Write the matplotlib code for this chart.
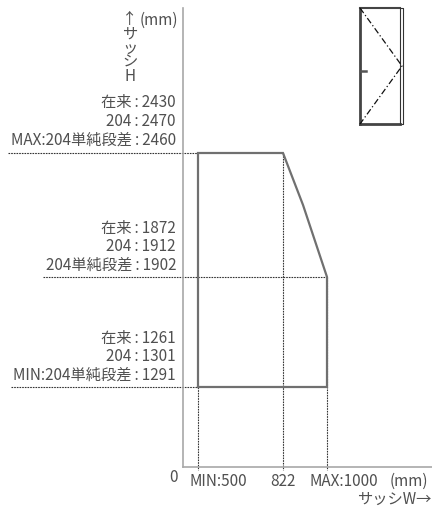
import matplotlib
matplotlib.use('Agg')
import matplotlib.pyplot as plt
import numpy as np
from matplotlib.transforms import Affine2D, blended_transform_factory

plt.rcParams['font.family'] = ['Noto Sans CJK JP', 'DejaVu Sans']

# sash size limits (mm), the drawing is not to scale
range_w = [500, 500, 822, 903, 1000, 1000, 500]
range_h = [1291, 2460, 2460, 2226, 1902, 1291, 1291]
xtick_vals = [500, 822, 1000]
xtick_labels = ['MIN:500', '822', 'MAX:1000']
h_levels = [2460, 1902, 1291]
h_labels = [
    '在来\u2009:\u20092430\n204\u2009:\u20092470\nMAX:204単純段差\u2009:\u20092460',
    '在来\u2009:\u20091872\n204\u2009:\u20091912\n204単純段差\u2009:\u20091902',
    '在来\u2009:\u20091261\n204\u2009:\u20091301\nMIN:204単純段差\u2009:\u20091291',
]
GRAY = '#505050'
FS = 11

# piecewise scales because the drawing spacing is uneven
x_vals = [0, 500, 822, 1000, 1400]
x_pos = [183, 198, 283, 327, 432]
y_vals = [0, 1291, 1902, 2460, 3000]
y_pos = [467, 387, 277, 153, 8]


def x_fwd(v):
    return np.interp(v, x_vals, x_pos)


def x_inv(v):
    return np.interp(v, x_pos, x_vals)


def y_fwd(v):
    return -np.interp(v, y_vals, y_pos)


def y_inv(v):
    return np.interp(-np.asarray(v), y_pos[::-1], y_vals[::-1])


fig = plt.figure(figsize=(4.32, 5.07), dpi=100)
ax = fig.add_axes([183 / 432, (507 - 467) / 507, (432 - 183) / 432, (467 - 8) / 507])
ax.set_xscale('function', functions=(x_fwd, x_inv))
ax.set_yscale('function', functions=(y_fwd, y_inv))
ax.set_xlim(0, 1400)
ax.set_ylim(0, 3000)
for s in ['top', 'right']:
    ax.spines[s].set_visible(False)
for s in ['left', 'bottom']:
    ax.spines[s].set_color('#a8a8a8')
    ax.spines[s].set_linewidth(1.2)
ax.set_xticks([])
ax.set_yticks([])

# figure pixel coordinates for text placement
px = Affine2D().scale(1 / 432, -1 / 507).translate(0, 1) + fig.transFigure
px_y = blended_transform_factory(px, ax.transData)
x_px = blended_transform_factory(ax.transData, px)

ax.plot(range_w, range_h, color='#707070', lw=1.6, solid_joinstyle='miter', clip_on=False, zorder=3)

dot = dict(color='#333333', lw=0.8, ls=(0, (1.5, 0.9)), clip_on=False, zorder=2)
ax.plot([8, 198], [2460, 2460], transform=px_y, **dot)
ax.plot([43, 327], [1902, 1902], transform=px_y, **dot)
ax.plot([11, 198], [1291, 1291], transform=px_y, **dot)
ax.plot([500, 500], [1291, 0], **dot)
ax.plot([1000, 1000], [1902, 0], **dot)
ax.plot([822, 822], [2460, 0], **dot)
for v in xtick_vals:
    ax.plot([v, v], [467, 470], transform=x_px, **dot)

for lab, y0 in zip(h_labels, [103, 228, 338]):
    for i, line in enumerate(lab.split('\n')):
        ax.text(176, y0 + i * 18.6, line, transform=px, ha='right', va='center',
                fontsize=FS, color=GRAY, clip_on=False)

# stacked vertical label of the y axis
ax.text(130, 48, '↑\nサ\nッ\nシ\nH', transform=px, ha='center', va='center', multialignment='center',
        linespacing=0.78, fontsize=FS, color=GRAY, clip_on=False)
ax.text(178, 20, '(mm)', transform=px, ha='right', va='center', fontsize=FS, color=GRAY, clip_on=False)

ax.text(174, 477, '0', transform=px, ha='center', va='center', fontsize=FS, color=GRAY, clip_on=False)
for xc, lab in zip([218, 283, 344], xtick_labels):
    ax.text(xc, 481, lab, transform=px, ha='center', va='center', fontsize=FS, color=GRAY, clip_on=False)
ax.text(428, 481, '(mm)', transform=px, ha='right', va='center', fontsize=FS, color=GRAY, clip_on=False)
ax.text(431, 499, 'サッシW→', transform=px, ha='right', va='center', fontsize=FS, color=GRAY, clip_on=False)

# door icon, top right
icon = fig.add_axes([340 / 432, (507 - 140) / 507, 92 / 432, 140 / 507])
icon.set_xlim(340, 432)
icon.set_ylim(140, 0)
icon.axis('off')
icon.plot([400, 403, 403, 400], [8, 8, 124, 124], color='#333333', lw=0.8)
icon.plot([360, 360], [8, 124], color='#444444', lw=2)
icon.plot([360, 400], [8, 8], color='#444444', lw=1.5)
icon.plot([360, 400], [124, 124], color='#444444', lw=2)
icon.plot([400, 400], [8, 124], color='#333333', lw=0.8)
icon.plot([361, 366], [71, 71], color='#555555', lw=1.8)
icon.plot([360, 402, 360], [8, 66, 124], color='#111111', lw=0.9, ls=(0, (5, 2, 1, 2)))

fig.savefig('out.png', dpi=100)
